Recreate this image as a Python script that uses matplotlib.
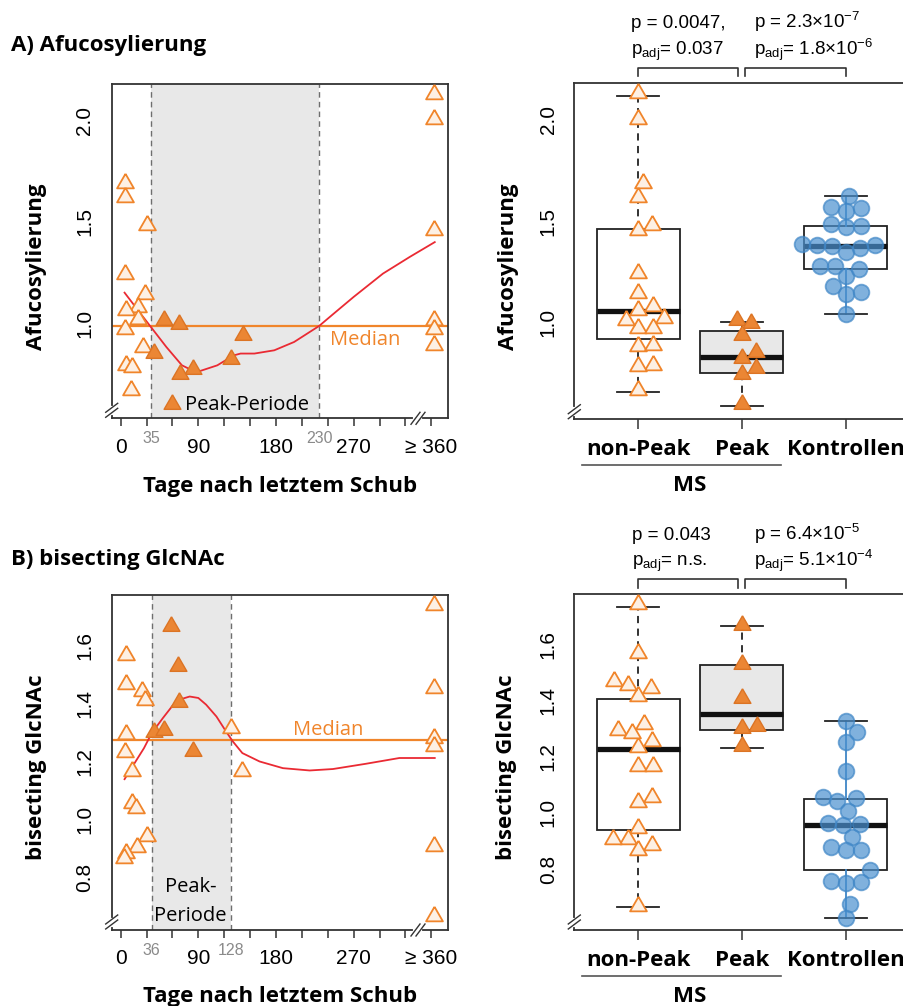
import numpy as np
import matplotlib.pyplot as plt
import matplotlib.transforms as mtransforms
from matplotlib.lines import Line2D

plt.rcParams['font.family'] = ['Liberation Sans', 'DejaVu Sans']
plt.rcParams['mathtext.fontset'] = 'custom'
plt.rcParams['mathtext.rm'] = 'Liberation Sans'
plt.rcParams['mathtext.it'] = 'Liberation Sans:italic'
plt.rcParams['mathtext.bf'] = 'Liberation Sans:bold'

HUM = 'Open Sans'   # stands in for the Myriad-like label font

# ---------------- data ----------------
categories = ['non-Peak', 'Peak', 'Kontrollen']
day_ticks = list(range(0, 361, 30))
day_labels = ['0', '', '', '90', '', '', '180', '', '', '270', '', '', '≥ 360']

# A) Afucosylierung
a_np_days = [5, 5, 30, 5, 28, 20, 6, 20, 5, 26, 6, 13, 12, 363, 363, 363, 363, 363, 363]
a_np_vals = [1.69, 1.62, 1.483, 1.245, 1.146, 1.08, 1.064, 1.023, 0.974, 0.883, 0.793,
             0.785, 0.67, 2.13, 2.005, 1.458, 1.015, 0.974, 0.892]
a_pk_days = [50, 68, 142, 39, 128, 84, 69, 59]
a_pk_vals = [1.015, 0.998, 0.94, 0.855, 0.826, 0.776, 0.748, 0.6]
a_ctrl_vals = [1.624, 1.571, 1.552, 1.563, 1.486, 1.473, 1.476, 1.388, 1.383, 1.38, 1.35,
               1.37, 1.383, 1.279, 1.279, 1.23, 1.265, 1.181, 1.14, 1.153, 1.041]
a_curve_days = [4.5, 23, 35, 53, 71, 83, 92, 112, 131, 139, 155, 178, 201, 230, 247, 270, 304, 335, 364]
a_curve_vals = [1.151, 1.048, 0.982, 0.883, 0.793, 0.768, 0.765, 0.793, 0.842, 0.851, 0.851,
                0.867, 0.908, 0.987, 1.048, 1.13, 1.245, 1.327, 1.40]
a_median = 0.987
a_peak = [35, 230]
# whisker low, q1, median, q3, whisker high
a_box_np = [0.66, 0.918, 1.056, 1.462, 2.117]
a_box_pk = [0.59, 0.752, 0.831, 0.957, 1.006]
a_box_ctrl = [1.043, 1.264, 1.379, 1.476, 1.624]
a_p_left = ['p = 0.0047,', r'p$_{\mathregular{adj}}$= 0.037']
a_p_right = [r'p = 2.3×10$^{\mathregular{-7}}$', r'p$_{\mathregular{adj}}$= 1.8×10$^{\mathregular{-6}}$']

# B) bisecting GlcNAc
b_np_days = [6.5, 6.5, 25, 28, 6.5, 5, 13, 13, 18, 30, 19, 6.5, 4, 128, 141, 363, 363, 363, 363, 363, 363]
b_np_vals = [1.569, 1.468, 1.443, 1.414, 1.295, 1.233, 1.167, 1.057, 1.04, 0.945, 0.906,
             0.885, 0.868, 1.316, 1.167, 1.741, 1.454, 1.282, 1.256, 0.908, 0.669]
b_pk_days = [58, 67, 68, 39, 50, 84]
b_pk_vals = [1.667, 1.53, 1.407, 1.301, 1.31, 1.236]
b_ctrl_vals = [1.327, 1.288, 1.252, 1.149, 1.057, 1.042, 1.051, 1.006, 0.96, 0.956, 0.962,
               0.915, 0.879, 0.867, 0.867, 0.796, 0.758, 0.749, 0.755, 0.676, 0.625]
b_curve_days = [4.5, 15, 27, 36, 49, 60, 70, 80, 90, 99, 111, 122, 130, 141, 161, 188, 219, 246, 284, 323, 364]
b_curve_vals = [1.14, 1.19, 1.247, 1.299, 1.351, 1.393, 1.416, 1.425, 1.42, 1.397, 1.356,
                1.305, 1.27, 1.23, 1.201, 1.178, 1.17, 1.175, 1.193, 1.213, 1.213]
b_median = 1.276
b_peak = [36, 128]
b_box_np = [0.665, 0.939, 1.227, 1.405, 1.733]
b_box_pk = [1.231, 1.296, 1.353, 1.525, 1.664]
b_box_ctrl = [0.627, 0.797, 0.958, 1.049, 1.328]
b_p_left = ['p = 0.043', r'p$_{\mathregular{adj}}$= n.s.']
b_p_right = [r'p = 6.4×10$^{\mathregular{-5}}$', r'p$_{\mathregular{adj}}$= 5.1×10$^{\mathregular{-4}}$']

# ---------------- style ----------------
ORANGE = '#f0852b'
OPEN_FILL = '#fdf0e4'
PK_FILL = '#eb8634'
PK_EDGE = '#dc7424'
RED = '#ea2a33'
BLUE_FILL = '#4a90cf'
BLUE_EDGE = '#3f86c6'
DARK = '#333333'
TRI = [(0, 1), (-0.866, -0.5), (0.866, -0.5), (0, 1)]
TRI_S = 195
CIRC_S = 128

W, H = 904, 1006
fig = plt.figure(figsize=(W / 100, H / 100), dpi=100)


def fx(x):
    return x / W


def fy(y):
    return 1 - y / H


def px_axes(l, t, r, b):
    return fig.add_axes([l / W, 1 - b / H, (r - l) / W, (b - t) / H])


def break_mark(x, y, horizontal):
    # "//" axis break drawn across a spine, pixel coords from top-left
    if horizontal:
        fig.add_artist(Line2D([fx(x - 2.5), fx(x + 2.5)], [fy(y)] * 2, color='white', lw=3,
                              transform=fig.transFigure, zorder=5))
    else:
        fig.add_artist(Line2D([fx(x)] * 2, [fy(y - 2.5), fy(y + 2.5)], color='white', lw=3,
                              transform=fig.transFigure, zorder=5))
    for s in (-2.5, 2.5):
        if horizontal:
            xs, ys = [x + s - 4.5, x + s + 4.5], [y + 6, y - 6]
        else:
            xs, ys = [x - 6, x + 6], [y + s + 4.5, y + s - 4.5]
        fig.add_artist(Line2D([fx(v) for v in xs], [fy(v) for v in ys], color=DARK, lw=1.0,
                              transform=fig.transFigure, zorder=6))


def style_spines(ax):
    for sp in ax.spines.values():
        sp.set_color(DARK)
        sp.set_linewidth(1.3)


def left_panel(ax, np_d, np_v, pk_d, pk_v, cd, cv, med, peak, ylim, yticks):
    ax.set_xlim(-10.4, 379)
    ax.set_ylim(*ylim)
    ax.axvspan(peak[0], peak[1], color='#e8e8e8', lw=0, zorder=0)
    for d in peak:
        ax.axvline(d, color='#6e6e6e', lw=1.0, ls=(0, (4, 3)), zorder=1)
        ax.annotate(str(d), xy=(d, 0), xycoords=ax.get_xaxis_transform(),
                    xytext=(0, -14.5), textcoords='offset points', ha='center', va='center',
                    color='#8a8a8a', fontsize=11.5, annotation_clip=False)
    ax.axhline(med, color=ORANGE, lw=1.6, zorder=2)
    ax.plot(cd, cv, color=RED, lw=1.3, zorder=3, solid_joinstyle='round')
    ax.scatter(np_d, np_v, marker=TRI, s=TRI_S, facecolor=OPEN_FILL, edgecolor=ORANGE,
               linewidth=1.3, zorder=4)
    ax.scatter(pk_d, pk_v, marker=TRI, s=TRI_S, facecolor=PK_FILL, edgecolor=PK_EDGE,
               linewidth=1.0, zorder=5)
    ax.set_xticks(day_ticks)
    ax.set_xticklabels(day_labels)
    ax.set_yticks(yticks)
    ax.set_yticklabels([f'{v:.1f}' for v in yticks], rotation=90, va='center')
    ax.tick_params(axis='x', length=5.5, width=1.1, pad=8.5, labelsize=15, color=DARK)
    ax.tick_params(axis='y', length=0, pad=12.5, labelsize=15)
    style_spines(ax)


def swarm(ax, xpos, vals, d):
    pts = ax.transData.transform(np.column_stack([np.full(len(vals), xpos), vals]))
    ys = pts[:, 1]
    x0 = pts[0, 0]
    out = np.zeros(len(vals))
    px, py = [], []
    for i in np.argsort(ys, kind='stable'):
        y = ys[i]
        pos, neg = [], []
        for a, b in zip(px, py):
            dy = abs(y - b)
            if dy < d:
                dx = np.sqrt(d * d - dy * dy)
                pos.append(a + dx)
                neg.append(a - dx)
        cands = [0.0] + pos + neg
        ok = [c for c in cands
              if all((c - a) ** 2 + (y - b) ** 2 >= d * d * 0.999 for a, b in zip(px, py))]
        best = min(ok, key=abs)
        out[i] = best
        px.append(best)
        py.append(y)
    return ax.transData.inverted().transform(np.column_stack([x0 + out, ys]))[:, 0]


def right_panel(ax, np_v, pk_v, ctrl_v, boxes, ylim, yticks):
    ax.set_xlim(0.385, 3.58)
    ax.set_ylim(*ylim)
    fills = ['white', '#e8e8e8', 'white']
    for i, b in enumerate(boxes):
        st = [dict(whislo=b[0], q1=b[1], med=b[2], q3=b[3], whishi=b[4])]
        wcol = BLUE_EDGE if i == 2 else '#222222'
        wls = '-' if i == 2 else (0, (4, 3))
        ax.bxp(st, positions=[i + 1], widths=0.8, capwidths=0.4, showfliers=False,
               patch_artist=True, manage_ticks=False, zorder=2,
               boxprops=dict(facecolor=fills[i], edgecolor='#222222', linewidth=1.3),
               medianprops=dict(color='#111111', linewidth=3.8, solid_capstyle='butt'),
               whiskerprops=dict(color=wcol, linewidth=1.3, linestyle=wls),
               capprops=dict(color='#222222', linewidth=1.3))
    ax.scatter(swarm(ax, 1, np_v, 15), np_v, marker=TRI, s=TRI_S, facecolor=OPEN_FILL,
               edgecolor=ORANGE, linewidth=1.3, zorder=4)
    ax.scatter(swarm(ax, 2, pk_v, 15), pk_v, marker=TRI, s=TRI_S, facecolor=PK_FILL,
               edgecolor=PK_EDGE, linewidth=1.0, zorder=4)
    ax.scatter(swarm(ax, 3, ctrl_v, 15), ctrl_v, marker='o', s=CIRC_S, facecolor=BLUE_FILL,
               alpha=0.7, edgecolor=BLUE_EDGE, linewidth=1.3, zorder=4)
    ax.set_xticks([1, 2, 3])
    ax.set_xticklabels(['', '', ''])
    ax.set_yticks(yticks)
    ax.set_yticklabels([f'{v:.1f}' for v in yticks], rotation=90, va='center')
    ax.tick_params(axis='x', length=7, width=1.1, color=DARK)
    ax.tick_params(axis='y', length=0, pad=12, labelsize=15)
    style_spines(ax)


def right_labels(ax, base, top_y, p_left, p_right, p_x):
    tr = mtransforms.blended_transform_factory(ax.transData, fig.transFigure)
    for x, lab in zip([1, 2, 3], categories):
        fig.text(x, fy(base + 36), lab, transform=tr, ha='center', va='baseline',
                 fontsize=16, fontweight='bold', family=HUM)
    fig.add_artist(Line2D([0.456, 2.372], [fy(base + 45.5)] * 2, transform=tr,
                          color='#555555', lw=1.2))
    fig.text(1.5, fy(base + 72), 'MS', transform=tr, ha='center', va='baseline',
             fontsize=16, fontweight='bold', family=HUM)
    # brackets
    for x1, x2 in [(1, 1.962), (2.033, 3)]:
        fig.add_artist(Line2D([x1, x1, x2, x2],
                              [fy(top_y + 8.5), fy(top_y), fy(top_y), fy(top_y + 8.5)],
                              transform=tr, color=DARK, lw=1.2))
    for lines, x in zip([p_left, p_right], p_x):
        fig.text(fx(x), fy(top_y - 39.4), lines[0], ha='left', va='baseline', fontsize=13.5)
        fig.text(fx(x), fy(top_y - 12.7), lines[1], ha='left', va='baseline', fontsize=13.5)


# ---------------- A ----------------
axA1 = px_axes(111.7, 84, 447.7, 418.3)
left_panel(axA1, a_np_days, a_np_vals, a_pk_days, a_pk_vals, a_curve_days, a_curve_vals,
           a_median, a_peak, (0.532, 2.179), [1.0, 1.5, 2.0])
axA1.annotate('Median', xy=(243, a_median), xytext=(0, -13.9), textcoords='offset points',
              ha='left', va='baseline', color=ORANGE, fontsize=14.5, family=HUM, zorder=6)
axA1.text(74, 0.575, 'Peak-Periode', ha='left', va='baseline', fontsize=14.5, family=HUM, zorder=6)

axA2 = px_axes(574.3, 83.3, 906, 419.3)
right_panel(axA2, a_np_vals, a_pk_vals, a_ctrl_vals, [a_box_np, a_box_pk, a_box_ctrl],
            (0.524, 2.18), [1.0, 1.5, 2.0])
right_labels(axA2, 419.3, 67.7, a_p_left, a_p_right, [630.7, 754.3])

# ---------------- B ----------------
axB1 = px_axes(111.7, 595, 447.7, 930)
left_panel(axB1, b_np_days, b_np_vals, b_pk_days, b_pk_vals, b_curve_days, b_curve_vals,
           b_median, b_peak, (0.62, 1.775), [0.8, 1.0, 1.2, 1.4, 1.6])
axB1.annotate('Median', xy=(199.5, b_median), xytext=(0, 3.6), textcoords='offset points',
              ha='left', va='baseline', color=ORANGE, fontsize=14.5, family=HUM, zorder=6)
axB1.text(81, 0.752, 'Peak-', ha='center', va='baseline', fontsize=14.5, family=HUM, zorder=6)
axB1.text(81, 0.652, 'Periode', ha='center', va='baseline', fontsize=14.5, family=HUM, zorder=6)

axB2 = px_axes(574.3, 594.3, 906, 930)
right_panel(axB2, b_np_vals, b_pk_vals, b_ctrl_vals, [b_box_np, b_box_pk, b_box_ctrl],
            (0.583, 1.777), [0.8, 1.0, 1.2, 1.4, 1.6])
right_labels(axB2, 930, 579, b_p_left, b_p_right, [632.3, 754.3])

# ---------------- titles, axis labels, breaks ----------------
fig.text(fx(11), fy(51), 'A) Afucosylierung', ha='left', va='baseline', fontsize=16,
         fontweight='bold', family=HUM)
fig.text(fx(11), fy(565), 'B) bisecting GlcNAc', ha='left', va='baseline', fontsize=16,
         fontweight='bold', family=HUM)
for y in (491.7, 1001.7):
    fig.text(fx(279.7), fy(y), 'Tage nach letztem Schub', ha='center', va='baseline',
             fontsize=16, fontweight='bold', family=HUM)
for x, y, lab in [(36.7, 266.5, 'Afucosylierung'), (508.3, 266.5, 'Afucosylierung'),
                  (36.7, 766.7, 'bisecting GlcNAc'), (506.7, 766.7, 'bisecting GlcNAc')]:
    fig.text(fx(x), fy(y), lab, rotation=90, ha='center', va='center', fontsize=16,
             fontweight='bold', family=HUM)

for top, bot in [(84, 418.3), (595, 930)]:
    break_mark(111.7, bot - 8, False)
    break_mark(418, bot, True)
break_mark(574.3, 411.7, False)
break_mark(574.3, 922, False)

fig.savefig('out.png', dpi=100)
